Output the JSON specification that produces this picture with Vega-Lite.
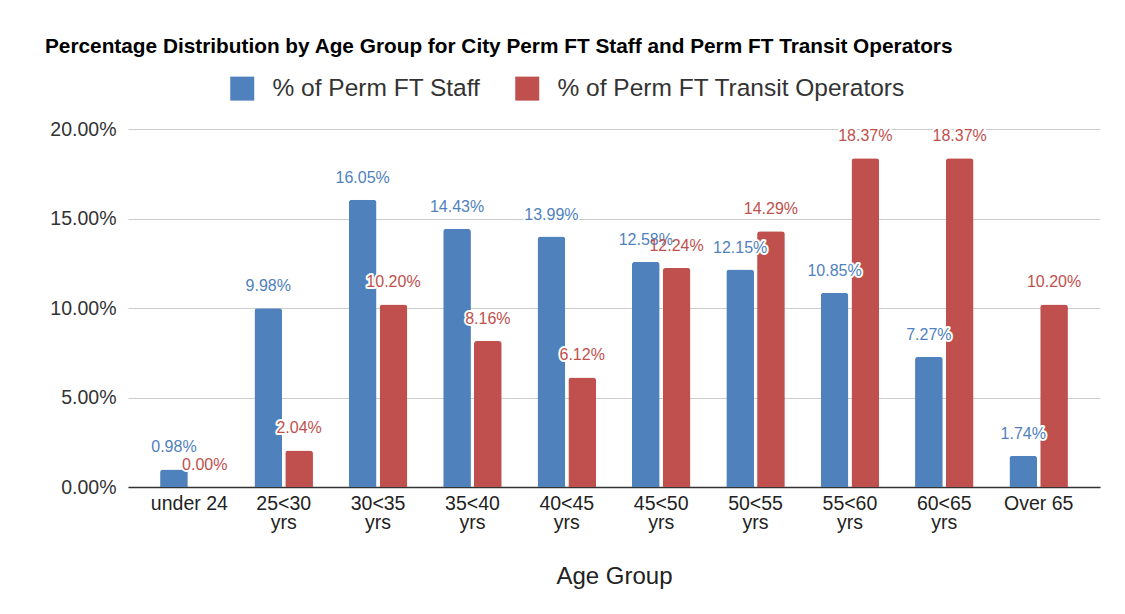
{
  "$schema": "https://vega.github.io/schema/vega-lite/v6.json",
  "autosize": "none",
  "width": 972,
  "height": 358,
  "padding": {"left": 128, "top": 129, "right": 25, "bottom": 127},
  "background": "white",
  "config": {"view": {"stroke": null}},
  "title": {
    "text": "Percentage Distribution by Age Group for City Perm FT Staff and Perm FT Transit Operators",
    "anchor": "start",
    "frame": "group",
    "dx": -83,
    "offset": 18,
    "font": "Liberation Sans",
    "fontSize": 20.8,
    "fontWeight": "bold",
    "color": "#000000"
  },
  "data": {
    "values": [
      {"age": "under 24", "series": "% of Perm FT Staff", "pct": 0.0098},
      {"age": "under 24", "series": "% of Perm FT Transit Operators", "pct": 0.0},
      {"age": "25<30 yrs", "series": "% of Perm FT Staff", "pct": 0.0998},
      {"age": "25<30 yrs", "series": "% of Perm FT Transit Operators", "pct": 0.0204},
      {"age": "30<35 yrs", "series": "% of Perm FT Staff", "pct": 0.1605},
      {"age": "30<35 yrs", "series": "% of Perm FT Transit Operators", "pct": 0.1020},
      {"age": "35<40 yrs", "series": "% of Perm FT Staff", "pct": 0.1443},
      {"age": "35<40 yrs", "series": "% of Perm FT Transit Operators", "pct": 0.0816},
      {"age": "40<45 yrs", "series": "% of Perm FT Staff", "pct": 0.1399},
      {"age": "40<45 yrs", "series": "% of Perm FT Transit Operators", "pct": 0.0612},
      {"age": "45<50 yrs", "series": "% of Perm FT Staff", "pct": 0.1258},
      {"age": "45<50 yrs", "series": "% of Perm FT Transit Operators", "pct": 0.1224},
      {"age": "50<55 yrs", "series": "% of Perm FT Staff", "pct": 0.1215},
      {"age": "50<55 yrs", "series": "% of Perm FT Transit Operators", "pct": 0.1429},
      {"age": "55<60 yrs", "series": "% of Perm FT Staff", "pct": 0.1085},
      {"age": "55<60 yrs", "series": "% of Perm FT Transit Operators", "pct": 0.1837},
      {"age": "60<65 yrs", "series": "% of Perm FT Staff", "pct": 0.0727},
      {"age": "60<65 yrs", "series": "% of Perm FT Transit Operators", "pct": 0.1837},
      {"age": "Over 65", "series": "% of Perm FT Staff", "pct": 0.0174},
      {"age": "Over 65", "series": "% of Perm FT Transit Operators", "pct": 0.1020}
    ]
  },
  "encoding": {
    "x": {
      "field": "age",
      "type": "nominal",
      "sort": null,
      "scale": {"paddingInner": 0.38, "paddingOuter": 0.34},
      "axis": {
        "title": "Age Group",
        "titleFont": "Liberation Sans",
        "titleFontSize": 24,
        "titleFontWeight": "normal",
        "titleColor": "#222222",
        "titlePadding": 33,
        "labelFont": "Liberation Sans",
        "labelFontSize": 19.5,
        "labelColor": "#222222",
        "labelAngle": 0,
        "labelPadding": 7,
        "labelLineHeight": 19,
        "labelExpr": "test(/yrs/, datum.value) ? split(datum.value, ' ') : datum.value",
        "ticks": false,
        "domainColor": "#333333",
        "domainWidth": 1.5,
        "grid": false
      }
    },
    "xOffset": {
      "field": "series",
      "type": "nominal",
      "scale": {"paddingInner": 0.1}
    },
    "y": {
      "field": "pct",
      "type": "quantitative",
      "scale": {"domain": [0, 0.2], "nice": false},
      "axis": {
        "title": null,
        "values": [0, 0.05, 0.1, 0.15, 0.2],
        "format": ".2%",
        "labelFont": "Liberation Sans",
        "labelFontSize": 19.5,
        "labelColor": "#333333",
        "labelPadding": 12,
        "ticks": false,
        "domain": false,
        "gridColor": "#cccccc",
        "gridWidth": 1
      }
    }
  },
  "layer": [
    {
      "mark": {"type": "bar", "cornerRadiusTopLeft": 3, "cornerRadiusTopRight": 3},
      "encoding": {
        "color": {
          "field": "series",
          "type": "nominal",
          "scale": {"range": ["#4f81bd", "#c0504d"]},
          "legend": {
            "title": null,
            "orient": "none",
            "legendX": 102,
            "legendY": -53,
            "direction": "horizontal",
            "symbolType": "square",
            "symbolSize": 576,
            "symbolStrokeWidth": 0,
            "labelFont": "Liberation Sans",
            "labelFontSize": 24.5,
            "labelColor": "#333333",
            "labelOffset": 18,
            "columnPadding": 34,
            "labelLimit": 500
          }
        }
      }
    },
    {
      "mark": {"type": "text", "dy": -22, "font": "Liberation Sans", "fontSize": 16, "stroke": "white", "strokeWidth": 4, "strokeJoin": "round", "fill": "white"},
      "encoding": {
        "text": {"field": "pct", "type": "quantitative", "format": ".2%"}
      }
    },
    {
      "mark": {"type": "text", "dy": -22, "font": "Liberation Sans", "fontSize": 16},
      "encoding": {
        "text": {"field": "pct", "type": "quantitative", "format": ".2%"},
        "color": {
          "field": "series",
          "type": "nominal",
          "scale": {"range": ["#5b8ed6", "#d75b57"]},
          "legend": null
        }
      }
    }
  ]
}
